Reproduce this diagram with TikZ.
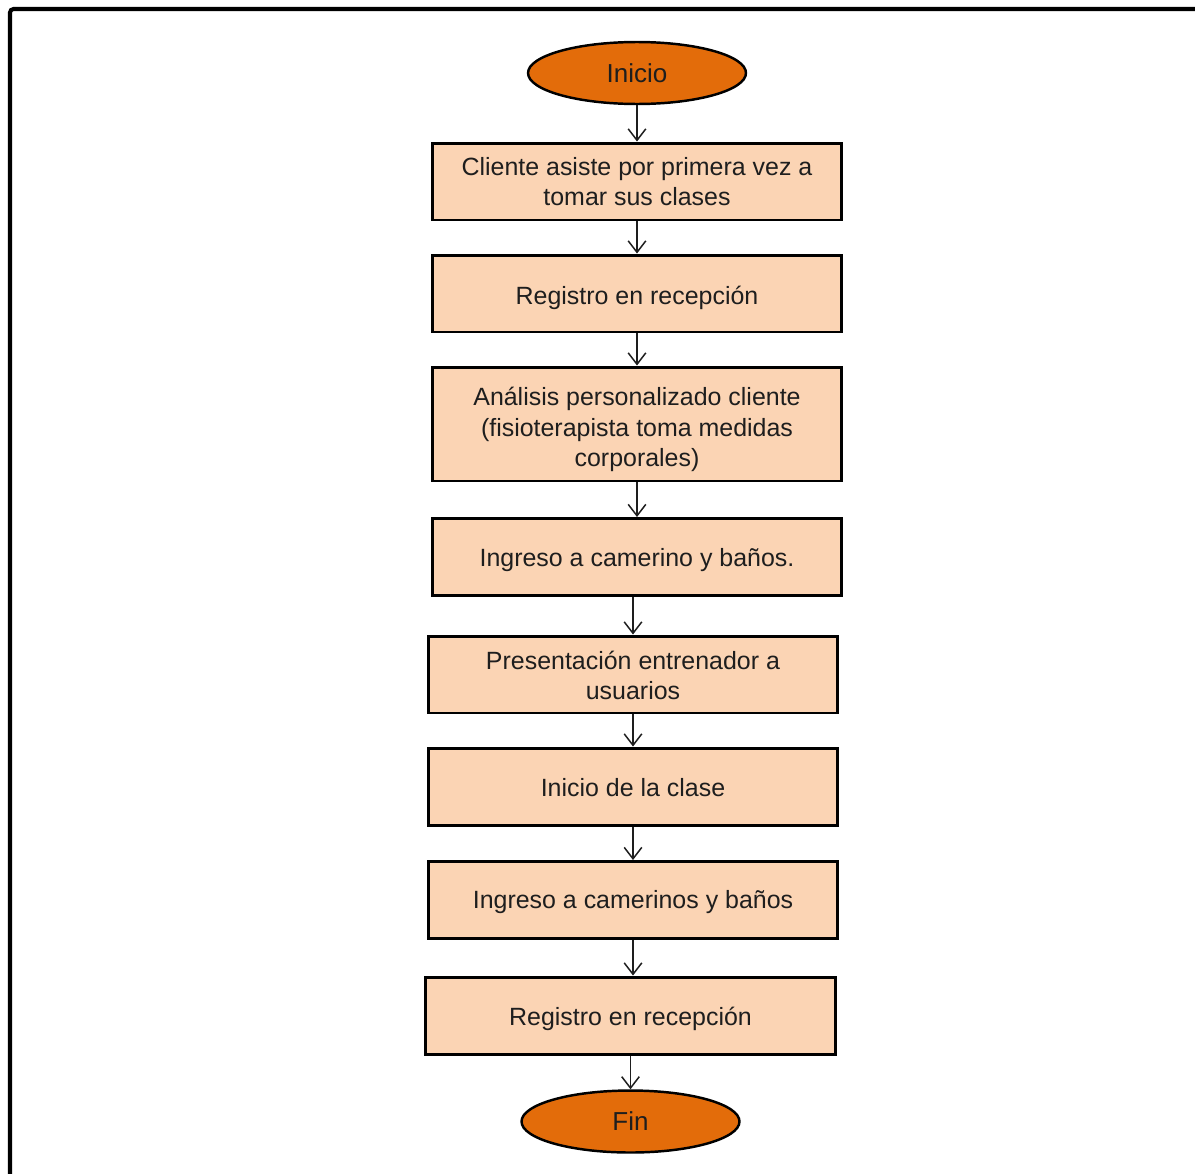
\documentclass[tikz,border=0pt]{standalone}
\usepackage{fontspec}
\setmainfont{Liberation Sans}
\usetikzlibrary{arrows.meta,shapes.geometric}
\definecolor{startorange}{HTML}{E36C0A}
\definecolor{stepfill}{HTML}{FBD4B4}
\definecolor{inkgray}{HTML}{1E1E1E}
% centred lines of text, drawn lower by the given amount while keeping their box size
\newcommand\droptext[2]{\raisebox{-#1}[\height][\depth]{\begin{tabular}{@{}c@{}}#2\end{tabular}}}
\tikzset{
  flowbox/.style={draw=black, line width=1.7pt, fill=stepfill, text=inkgray,
    minimum width=8.2cm, minimum height=1.54cm, align=center, inner sep=0pt,
    font=\fontsize{14.2}{17.1}\selectfont},
  terminal/.style={ellipse, draw=black, line width=1.4pt, fill=startorange, text=inkgray,
    minimum width=4.36cm, minimum height=1.24cm, inner sep=0pt,
    font=\fontsize{14.8}{17.1}\selectfont},
  flowarrow/.style={draw=inkgray, line width=0.85pt,
    -{Straight Barb[length=6.5pt, width=10pt, line width=0.85pt]}}
}
\begin{document}
\begin{tikzpicture}[x=0.02cm, y=-0.02cm]
  \useasboundingbox (0,0) rectangle (1195,1173);
  \fill[white] (0,0) rectangle (1195,1173);
  % outer frame, running past the right and bottom edges
  \begin{scope}
    \clip (0,0) rectangle (1195,1173);
    \draw[line width=2.3pt, rounded corners=2pt] (10,9) rectangle (1230,1210);
  \end{scope}

  \node[terminal] (start) at (637,73) {Inicio};
  \node[flowbox] (s1) at (637,181.5) {\droptext{0.06cm}{Cliente asiste por primera vez a\\tomar sus clases}};
  \node[flowbox] (s2) at (637,293.5) {\droptext{0.1cm}{Registro en recepción}};
  \node[flowbox, minimum height=2.28cm] (s3) at (637,424) {\droptext{0.12cm}{Análisis personalizado cliente\\(fisioterapista toma medidas\\corporales)}};
  \node[flowbox] (s4) at (637,557) {\droptext{0.07cm}{Ingreso a camerino y baños.}};
  \node[flowbox] (s5) at (633,674.5) {\droptext{0.08cm}{Presentación entrenador a\\usuarios}};
  \node[flowbox] (s6) at (633,786.5) {\droptext{0.08cm}{Inicio de la clase}};
  \node[flowbox] (s7) at (633,900) {\droptext{0.05cm}{Ingreso a camerinos y baños}};
  \node[flowbox] (s8) at (630.5,1015.5) {\droptext{0.08cm}{Registro en recepción}};
  \node[terminal] (stop) at (630.5,1121.5) {Fin};

  \draw[flowarrow] (start.south) -- (s1.north);
  \draw[flowarrow] (s1.south) -- (s2.north);
  \draw[flowarrow] (s2.south) -- (s3.north);
  \draw[flowarrow] (s3.south) -- (s4.north);
  \draw[flowarrow] (s5.north |- s4.south) -- (s5.north);
  \draw[flowarrow] (s5.south) -- (s6.north);
  \draw[flowarrow] (s6.south) -- (s7.north);
  \draw[flowarrow] (s7.south) -- (s7.south |- s8.north);
  \draw[flowarrow] (s8.south) -- (stop.north);
\end{tikzpicture}
\end{document}
